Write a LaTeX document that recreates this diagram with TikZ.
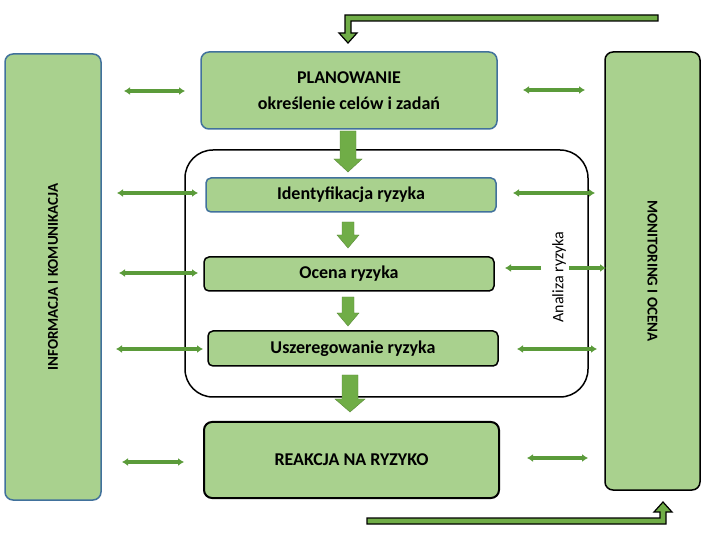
\documentclass[tikz,border=0pt]{standalone}
\usepackage{fontspec}
\setmainfont{Carlito}
\usetikzlibrary{arrows.meta}
\begin{document}
\begin{tikzpicture}[x=1pt,y=-1pt,
 box/.style={draw=#1,fill=gfill,rounded corners=8pt,line width=1.5pt,inner sep=0pt},
 lab/.style={font=\bfseries\fontsize{18}{20}\selectfont},
 slab/.style={font=\bfseries\fontsize{15}{17}\selectfont},
 dbl/.style={draw=gline,line width=3.2pt,<->,>={Latex[length=6pt,width=8pt]}},
 sgl/.style={draw=gline,line width=3.2pt,->,>={Latex[length=6pt,width=8pt]}},
 blk/.style={fill=barrow,draw=barrow!80!black,line width=0.4pt}]
\definecolor{gfill}{HTML}{A9D18E}
\definecolor{gline}{HTML}{5B9B3A}
\definecolor{barrow}{HTML}{70AD47}
\definecolor{bblue}{HTML}{41719C}
\useasboundingbox (0,0) rectangle (710,545);
% side boxes
\node[box=bblue,minimum width=96pt,minimum height=446pt] (info) at (53,277) {};
\node[slab,rotate=90] at (info) {INFORMACJA I KOMUNIKACJA};
\node[box=black,minimum width=95pt,minimum height=438pt] (mon) at (652.5,271) {};
\node[slab,rotate=-90] at (mon) {MONITORING I OCENA};
% analysis frame
\node[draw=black,line width=1.5pt,rounded corners=28pt,minimum width=403pt,minimum height=247pt] (frame) at (386.5,273.5) {};
% process boxes
\node[box=bblue,minimum width=296pt,minimum height=77pt,align=center,lab] (plan) at (349,90.5) {PLANOWANIE\\[6pt]określenie celów i zadań};
\node[box=bblue,minimum width=290pt,minimum height=34pt,lab,rounded corners=5pt] (id) at (351,195) {Identyfikacja ryzyka};
\node[box=black,minimum width=290pt,minimum height=34pt,lab,rounded corners=5pt] (oc) at (349,274) {Ocena ryzyka};
\node[box=black,minimum width=290pt,minimum height=35pt,lab,rounded corners=5pt] (usz) at (353,348.5) {Uszeregowanie ryzyka};
\node[box=black,minimum width=295pt,minimum height=76pt,lab,line width=2pt] (re) at (351.5,460) {REAKCJA NA RYZYKO};
\node[font=\fontsize{16}{18}\selectfont,rotate=90] (an) at (559,277) {Analiza ryzyka};
% block arrows down
\foreach \x/\ya/\yb/\w/\hw in {348/131/172/8/14, 348/222/248/6/11, 348/297/326/6/11, 350/375/412/8/15}{
 \fill[blk] (\x-\w,\ya) -- (\x+\w,\ya) -- (\x+\w,\yb-13) -- (\x+\hw,\yb-13) -- (\x,\yb) -- (\x-\hw,\yb-13) -- (\x-\w,\yb-13) -- cycle;}
% double arrows
\coordinate (l1a) at (124,91); \coordinate (l1b) at (185,91);
\coordinate (l2a) at (117,193); \coordinate (l2b) at (198,193);
\coordinate (l3a) at (119,273); \coordinate (l3b) at (198,273);
\coordinate (l4a) at (116,349); \coordinate (l4b) at (203,349);
\coordinate (l5a) at (122,462); \coordinate (l5b) at (184,462);
\coordinate (r1a) at (523,90); \coordinate (r1b) at (585,90);
\coordinate (r2a) at (513,193); \coordinate (r2b) at (595,193);
\coordinate (r4a) at (517,349); \coordinate (r4b) at (597,349);
\coordinate (r5a) at (527,458); \coordinate (r5b) at (588,458);
\foreach \p in {l1,l2,l3,l4,l5,r1,r2,r4,r5}{\draw[dbl] (\p a) -- (\p b);}
\coordinate (oa) at (541,268); \coordinate (ob) at (505,268);
\coordinate (oc1) at (569,268); \coordinate (oc2) at (606,268);
\draw[sgl] (oa) -- (ob);
\draw[sgl] (oc1) -- (oc2);
% feedback arrows
\fill[barrow,draw=black,line width=1.2pt] (658,15) -- (658,21) -- (351,21) -- (351,33) -- (357,33) -- (348,43) -- (339,33) -- (345,33) -- (345,15) -- cycle;
\fill[barrow,draw=black,line width=1.2pt] (367,518) -- (367,524) -- (666,524) -- (666,512) -- (672,512) -- (663,502) -- (654,512) -- (660,512) -- (660,518) -- cycle;
\end{tikzpicture}
\end{document}
